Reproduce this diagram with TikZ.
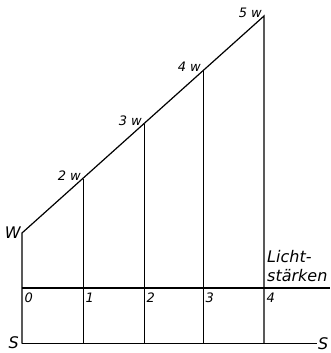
\documentclass[tikz,border=0pt]{standalone}
\usepackage{fontspec}
\setmainfont{DejaVu Sans}
\usetikzlibrary{positioning}
\tikzset{
  figline/.style={draw=black,line width=1.2pt},
  figthin/.style={draw=black,line width=0.9pt},
  fignum/.style={font=\itshape\fontsize{13}{15}\selectfont,inner sep=0pt},
  figletter/.style={font=\itshape\fontsize{16}{19}\selectfont,inner sep=0pt},
}
\begin{document}
\begin{tikzpicture}[x=1pt,y=-1pt]
\useasboundingbox (0,0) rectangle (331,353);

% points on the slanted line, the scale line and the base line
\foreach \i/\x/\y in {0/22/233,1/83/179,2/144/124,3/203/70,4/264/16}{
  \coordinate (top\i) at (\x,\y);
  \coordinate (mid\i) at (\x,288);
  \coordinate (bot\i) at (\x,343.5);
}
\coordinate (midend) at (330,288);
\coordinate (botend) at (317,343.5);

\draw[figline] (bot0) -- (top0) -- (top4) -- (bot4);
\foreach \i in {1,2,3} \draw[figthin] (top\i) -- (bot\i);
\draw[figline] (mid0) -- (midend);
\draw[figline] (bot0) -- (botend);

% labels
\node[figletter,anchor=east] (lblW) at ([xshift=-1pt]top0) {W};
\node[figletter,anchor=east] (lblSleft) at (19,343) {S};
\node[figletter,anchor=west] (lblSright) at ([xshift=1pt,yshift=-0.5pt]botend) {S};
\foreach \i/\k in {1/2,2/3,3/4,4/5}
  \node[fignum,anchor=east] (lbl\k w) at ([xshift=-2pt,yshift=3pt]top\i) {\k\ w};
\foreach \i in {0,...,4}
  \node[fignum,anchor=north west] (num\i) at ([xshift=2.5pt,yshift=-5pt]mid\i) {\i};
\node[figletter,anchor=south west,align=left] (lblLicht) at ([xshift=3pt,yshift=6pt]mid4) {Licht-\\stärken};
\end{tikzpicture}
\end{document}
